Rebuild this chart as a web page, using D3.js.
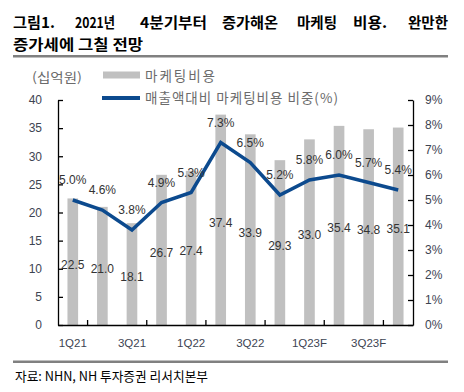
<!DOCTYPE html>
<html><head><meta charset="utf-8">
<script src="https://cdn.jsdelivr.net/npm/d3@7"></script>
<style>
body{margin:0;background:#fff;}
svg{display:block;}
</style></head>
<body>
<svg id="c" width="464" height="392"></svg>
<script>
const categories = ["1Q21","2Q21","3Q21","4Q21","1Q22","2Q22","3Q22","4Q22","1Q23F","2Q23F","3Q23F","4Q23F"];
const marketingCost = [22.5, 21.0, 18.1, 26.7, 27.4, 37.4, 33.9, 29.3, 33.0, 35.4, 34.8, 35.1];
const costRatio = [5.0, 4.6, 3.8, 4.9, 5.3, 7.3, 6.5, 5.2, 5.8, 6.0, 5.7, 5.4];
const leftTicks = [0,5,10,15,20,25,30,35,40];
const rightTicks = [0,1,2,3,4,5,6,7,8,9];
const xLabels = ["1Q21","3Q21","1Q22","3Q22","1Q23F","3Q23F"];

const KR = "'Noto Sans CJK KR','Noto Sans',sans-serif";
const NUM = "'Liberation Sans',Arial,sans-serif";
const svg = d3.select("#c");

// Title
const titleWords = [["그림1.",13,42],["2021년",75,40],["4분기부터",140,67],["증가해온",222,56],["마케팅",297,40],["비용.",353,34],["완만한",408,40]];
titleWords.forEach(([w,x,len])=>{
  svg.append("text").attr("x",x).attr("y",28).attr("font-family",KR).attr("font-weight","bold")
    .attr("font-size",14.5).attr("fill","#000").attr("textLength",len).attr("lengthAdjust","spacingAndGlyphs").text(w);
});
svg.append("text").attr("x",13).attr("y",50).attr("font-family",KR).attr("font-weight","bold")
  .attr("font-size",14.5).attr("fill","#000").attr("textLength",130).attr("lengthAdjust","spacingAndGlyphs").text("증가세에 그칠 전망");
svg.append("rect").attr("x",13).attr("y",55).attr("width",435).attr("height",2.5).attr("fill","#808080");
svg.append("rect").attr("x",13).attr("y",360.5).attr("width",435).attr("height",2.5).attr("fill","#808080");
svg.append("text").attr("x",15).attr("y",381).attr("font-family",KR).attr("font-size",13).attr("fill","#000")
  .attr("textLength",193).attr("lengthAdjust","spacingAndGlyphs").text("자료: NHN, NH 투자증권 리서치본부");

// Scales
const x = d3.scaleBand().domain(categories).range([58,413]).paddingInner(0.64).paddingOuter(0.32);
const yL = d3.scaleLinear().domain([0,40]).range([325,100]);
const yR = d3.scaleLinear().domain([0,9]).range([325,100]);
const tickColor = "#3d4452";

// Bars
svg.append("g").selectAll("rect").data(marketingCost).join("rect")
  .attr("x",(d,i)=>x(categories[i])).attr("width",x.bandwidth())
  .attr("y",d=>yL(d)).attr("height",d=>yL(0)-yL(d)).attr("fill","#c0c0c0");

// Axes
const gL = svg.append("g").attr("transform","translate(58,0)")
  .call(d3.axisLeft(yL).tickValues(leftTicks).tickSizeInner(-5).tickSizeOuter(0).tickPadding(16));
const gR = svg.append("g").attr("transform","translate(413,0)")
  .call(d3.axisRight(yR).tickValues(rightTicks).tickSizeInner(-5).tickSizeOuter(0).tickPadding(12).tickFormat(d=>d+"%"));
const gB = svg.append("g").attr("transform","translate(0,325)")
  .call(d3.axisBottom(x).tickValues(xLabels).tickSize(0).tickPadding(14));
[gL,gR,gB].forEach(g=>{
  g.selectAll("path.domain").attr("stroke","#000").attr("stroke-width",1.3);
  g.selectAll(".tick line").attr("stroke","#000").attr("stroke-width",1.3);
  g.selectAll("text").attr("font-family",NUM).attr("font-size",12).attr("fill",tickColor);
});
gB.selectAll("text").attr("font-size",11.5);
// x tick marks at every other category boundary
const gap = x.step()-x.bandwidth();
svg.append("g").selectAll("line").data(categories.filter((c,i)=>i%2===1)).join("line")
  .attr("x1",c=>x(c)-gap/2).attr("x2",c=>x(c)-gap/2).attr("y1",325).attr("y2",320)
  .attr("stroke","#000").attr("stroke-width",1.3);

// Bar labels (center)
svg.append("g").selectAll("text").data(marketingCost).join("text")
  .attr("x",(d,i)=>x(categories[i])+x.bandwidth()/2)
  .attr("y",d=>(yL(0)+yL(d))/2+3)
  .attr("text-anchor","middle").attr("dominant-baseline","central")
  .attr("font-family",NUM).attr("font-size",12).attr("fill","#333")
  .text(d=>d.toFixed(1));

// Line
const line = d3.line().x((d,i)=>x(categories[i])+x.bandwidth()/2).y(d=>yR(d));
svg.append("path").datum(costRatio).attr("d",line).attr("fill","none")
  .attr("stroke","#0c4a8e").attr("stroke-width",3.5).attr("stroke-linejoin","miter");
svg.append("g").selectAll("text").data(costRatio).join("text")
  .attr("x",(d,i)=>x(categories[i])+x.bandwidth()/2)
  .attr("y",d=>yR(d)-20)
  .attr("text-anchor","middle").attr("dominant-baseline","central")
  .attr("font-family",NUM).attr("font-size",12).attr("fill","#333")
  .text(d=>d.toFixed(1)+"%");

// Legend
const legColor = "#6b6b6b";
svg.append("text").attr("x",32).attr("y",76).attr("dominant-baseline","central").attr("font-family",KR).attr("font-size",13)
  .attr("fill",legColor).attr("textLength",50).attr("lengthAdjust","spacingAndGlyphs").text("(십억원)");
svg.append("rect").attr("x",103).attr("y",71.5).attr("width",37).attr("height",7).attr("fill","#c0c0c0");
svg.append("text").attr("x",145).attr("y",75).attr("dominant-baseline","central").attr("font-family",KR).attr("font-size",13.5)
  .attr("fill",legColor).attr("textLength",70).attr("lengthAdjust","spacing").text("마케팅비용");
svg.append("line").attr("x1",102).attr("x2",140).attr("y1",98).attr("y2",98).attr("stroke","#0c4a8e").attr("stroke-width",4);
svg.append("text").attr("x",145).attr("y",97).attr("dominant-baseline","central").attr("font-family",KR).attr("font-size",13.5)
  .attr("fill",legColor).attr("textLength",193).attr("lengthAdjust","spacing").text("매출액대비 마케팅비용 비중(%)");
</script>
</body></html>
